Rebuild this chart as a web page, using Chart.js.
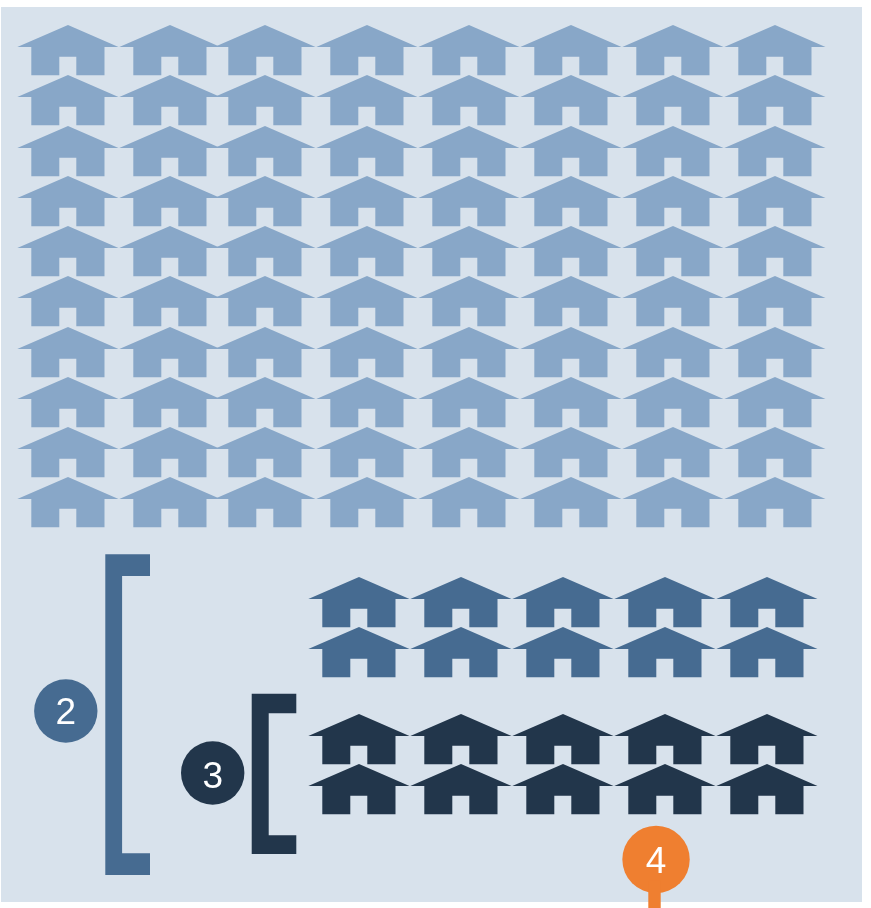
<!DOCTYPE html>
<html>
<head>
<meta charset="utf-8">
<style>
html,body{margin:0;padding:0;background:#fff;overflow:hidden}
#wrap{position:relative;width:871px;height:908px}
#panel{position:absolute;left:1px;top:7px;width:861px;height:895px;background:#d8e2ec}
canvas{position:absolute;left:0;top:0}
</style>
<script src="https://cdn.jsdelivr.net/npm/chart.js@4"></script>
</head>
<body>
<div id="wrap"><div id="panel"></div><canvas id="c" width="871" height="908"></canvas></div>
<script>
// Pictogram data, in grid units (1 x-unit = one house slot, 1 y-unit = one row)
const lightColumns = [0, 1, 1.93, 2.934, 3.934, 4.934, 5.934, 6.934];
const lightRows = [0, 1, 2, 3, 4, 5, 6, 7, 8, 9];
const lowerColumns = [2.859, 3.859, 4.859, 5.859, 6.859];
const midRows = [10.989, 11.984];
const darkRows = [13.709, 14.704];
const badgeLabels = ['2', '3', '4'];
const badgeX = [-0.0186, 1.4216, 5.768];
const badgeY = [13.132, 14.365, 16.086];
const bracketMidX = [0.3686, 0.5333, 0.8069];
const bracketMidY = [10.014, 10.446, 15.963, 16.395];
const bracketDarkX = [1.804, 1.9706, 2.2412];
const bracketDarkY = [12.787, 13.177, 15.605, 15.977];
const stemX = [5.753, 5.753];
const stemY = [16.5, 17.06];

const LIGHT = '#88a7c8', MID = '#466b91', DARK = '#22364b', ORANGE = '#ef7f30';
const BADGE_BASELINE = [13, 15, 13.5];

function houseIcon(color) {
  const c = document.createElement('canvas');
  c.width = 102; c.height = 52;
  const g = c.getContext('2d');
  g.fillStyle = color;
  g.beginPath();
  [[51,0],[101.5,22],[87.5,22],[87.5,50.3],[59.3,50.3],[59.3,31.7],[42.3,31.7],[42.3,50.3],[14.3,50.3],[14.3,22],[0.3,22]]
    .forEach((p, i) => i ? g.lineTo(p[0], p[1]) : g.moveTo(p[0], p[1]));
  g.closePath();
  g.fill();
  return c;
}
function grid(cols, rows) {
  const pts = [];
  rows.forEach(y => cols.forEach(x => pts.push({x, y})));
  return pts;
}
function bracket(xs, ys) {
  return [
    {x:xs[0],y:ys[0]},{x:xs[2],y:ys[0]},{x:xs[2],y:ys[1]},{x:xs[1],y:ys[1]},
    {x:xs[1],y:ys[2]},{x:xs[2],y:ys[2]},{x:xs[2],y:ys[3]},{x:xs[0],y:ys[3]},{x:xs[0],y:ys[0]}
  ];
}
function houses(label, data, color) {
  return {label, data, pointStyle: houseIcon(color), showLine:false, clip:false};
}
function shape(label, data, color) {
  return {label, data, showLine:true, fill:'shape', backgroundColor:color, borderColor:color,
          borderWidth:0, pointRadius:0, tension:0, clip:false};
}
const badgeColors = [MID, DARK, ORANGE];
const badgeRadii = [31.7, 31.7, 33.7];

const crispIcons = {
  id:'crispIcons',
  beforeDatasetsDraw(chart) { chart.ctx.imageSmoothingEnabled = false; }
};
const badgeText = {
  id:'badgeText',
  afterDatasetsDraw(chart) {
    const idx = chart.data.datasets.findIndex(d => d.label === 'badges');
    const meta = chart.getDatasetMeta(idx);
    const ctx = chart.ctx;
    ctx.save();
    ctx.fillStyle = '#ffffff';
    ctx.font = '37px "Liberation Sans", Arial, sans-serif';
    ctx.textAlign = 'center';
    ctx.textBaseline = 'alphabetic';
    meta.data.forEach((el, i) => ctx.fillText(badgeLabels[i], el.x, el.y + BADGE_BASELINE[i]));
    ctx.restore();
  }
};

new Chart(document.getElementById('c'), {
  type:'scatter',
  data:{datasets:[
    houses('light', grid(lightColumns, lightRows), LIGHT),
    houses('mid', grid(lowerColumns, midRows), MID),
    houses('dark', grid(lowerColumns, darkRows), DARK),
    shape('bracket mid', bracket(bracketMidX, bracketMidY), MID),
    shape('bracket dark', bracket(bracketDarkX, bracketDarkY), DARK),
    {label:'stem', data:stemX.map((x,i)=>({x, y:stemY[i]})), showLine:true, borderColor:ORANGE,
     borderWidth:12.4, pointRadius:0, clip:false, borderCapStyle:'butt'},
    {label:'badges', data:badgeX.map((x,i)=>({x, y:badgeY[i]})), showLine:false, pointStyle:'circle',
     pointRadius:badgeRadii, backgroundColor:badgeColors, borderWidth:0, clip:false}
  ]},
  options:{
    responsive:false,
    animation:false,
    layout:{padding:0, autoPadding:false},
    plugins:{legend:{display:false}, tooltip:{enabled:false}},
    scales:{
      x:{type:'linear', display:false, min:-67.7/102, max:(871-67.7)/102},
      y:{type:'linear', display:false, reverse:true, min:-51/50.26, max:(908-51)/50.26}
    }
  },
  plugins:[crispIcons, badgeText]
});
</script>
</body>
</html>
